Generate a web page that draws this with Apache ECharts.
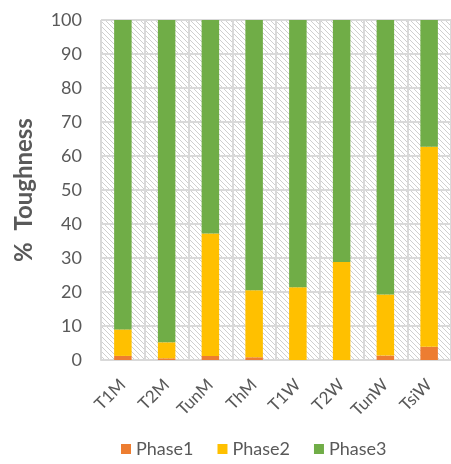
<!DOCTYPE html>
<html>
<head>
<meta charset="utf-8">
<script src="https://cdn.jsdelivr.net/npm/echarts@6/dist/echarts.min.js"></script>
<style>
  html, body { margin: 0; padding: 0; background: #fff; }
  #main { width: 451px; height: 464px; }
</style>
</head>
<body>
<div id="main"></div>
<script>
// categories and values
var categories = ['T1M', 'T2M', 'TunM', 'ThM', 'T1W', 'T2W', 'TunW', 'TsiW'];
var phase1 = [1.2, 0.5, 1.2, 0.8, 0, 0, 1.3, 3.9];
var phase2 = [7.8, 4.7, 36.0, 19.7, 21.4, 28.8, 18.0, 58.8];
var phase3 = [91.0, 94.8, 62.8, 79.5, 78.6, 71.2, 80.7, 37.3];
var yTicks = [0, 10, 20, 30, 40, 50, 60, 70, 80, 90, 100];

// diagonal hatch for the plot background
function hatch() {
    var c = document.createElement('canvas');
    c.width = 5; c.height = 5;
    var ctx = c.getContext('2d');
    ctx.fillStyle = '#ffffff';
    ctx.fillRect(0, 0, 5, 5);
    ctx.strokeStyle = '#cfcfcf';
    ctx.lineWidth = 1;
    ctx.beginPath();
    ctx.moveTo(-1, -1); ctx.lineTo(6, 6);
    ctx.moveTo(-1, 4); ctx.lineTo(1, 6);
    ctx.moveTo(4, -1); ctx.lineTo(6, 1);
    ctx.stroke();
    return c;
}

var chart = echarts.init(document.getElementById('main'));
var font = 'Lato, "Open Sans", sans-serif';

var option = {
    animation: false,
    grid: {
        left: 101, top: 20, right: -6, bottom: 104,
        show: true,
        borderWidth: 0,
        backgroundColor: { image: hatch(), repeat: 'repeat' }
    },
    legend: {
        top: 440,
        left: 121,
        padding: 0,
        itemWidth: 10,
        itemHeight: 10,
        itemGap: 24,
        icon: 'rect',
        textStyle: { color: '#595959', fontSize: 18, fontFamily: font },
        data: ['Phase1', 'Phase2', 'Phase3']
    },
    xAxis: {
        type: 'category',
        data: categories,
        axisTick: { show: false },
        axisLine: { lineStyle: { color: '#d9d9d9', width: 2 } },
        splitLine: { show: true, lineStyle: { color: '#d9d9d9', width: 2 } },
        axisLabel: {
            rotate: 45,
            color: '#595959',
            fontSize: 17,
            fontFamily: font,
            margin: 22,
            interval: 0
        }
    },
    yAxis: {
        type: 'value',
        min: 0,
        max: 100,
        interval: 10,
        name: '%  Toughness',
        nameLocation: 'middle',
        nameGap: 65,
        nameTextStyle: { color: '#595959', fontSize: 24, fontWeight: 'bold', fontFamily: font },
        axisLine: { show: false },
        axisTick: { show: false },
        splitLine: { lineStyle: { color: '#d9d9d9', width: 2 } },
        axisLabel: {
            color: '#595959',
            fontSize: 18,
            fontFamily: font,
            margin: 19,
            formatter: function (v) { return yTicks.indexOf(v) >= 0 ? v : ''; }
        }
    },
    series: [
        { name: 'Phase1', type: 'bar', stack: 'total', barWidth: '40%', data: phase1, itemStyle: { color: '#ED7D31' } },
        { name: 'Phase2', type: 'bar', stack: 'total', barWidth: '40%', data: phase2, itemStyle: { color: '#FFC000' } },
        { name: 'Phase3', type: 'bar', stack: 'total', barWidth: '40%', data: phase3, itemStyle: { color: '#70AD47' } }
    ]
};
chart.setOption(option);
</script>
</body>
</html>
